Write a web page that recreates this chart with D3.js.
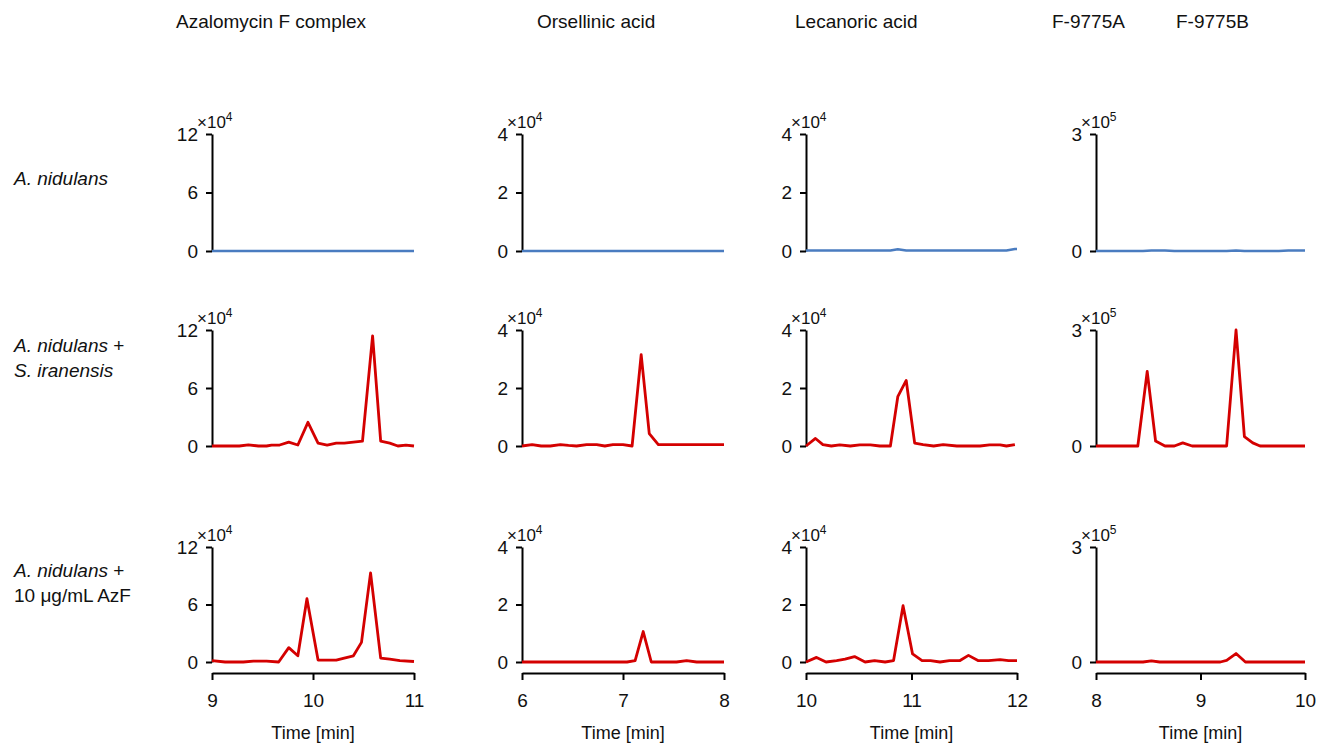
<!DOCTYPE html>
<html lang="en">
<head>
<meta charset="UTF-8">
<title>LC-MS traces</title>
<script src="https://d3js.org/d3.v7.min.js"></script>
<style>
  body { margin: 0; background: #fff; }
  svg text { font-family: "Liberation Sans", Arial, sans-serif; fill: #111; }
  .tick text { font-size: 19px; }
  .tick line, .domain { stroke: #000; stroke-width: 2px; }
</style>
</head>
<body>
<svg width="1317" height="744"></svg>
<script>
// column headers and row labels
const colTitles = [
  { text: "Azalomycin F complex", x: 176 },
  { text: "Orsellinic acid", x: 537 },
  { text: "Lecanoric acid", x: 795 },
  { text: "F-9775A", x: 1052 },
  { text: "F-9775B", x: 1176 }
];
const rowLabels = [
  [{ t: "A. nidulans", it: true, y: 185 }],
  [{ t: "A. nidulans", it: true, tail: " +", y: 352 }, { t: "S. iranensis", it: true, y: 377 }],
  [{ t: "A. nidulans", it: true, tail: " +", y: 577 }, { t: "10 μg/mL AzF", it: false, y: 602 }]
];

// axes per column
const xDomains = [[9, 11], [6, 8], [10, 12], [8, 10]];
const xTicks = [[9, 10, 11], [6, 7, 8], [10, 11, 12], [8, 9, 10]];
const yMax = [12, 4, 4, 3];
const yTicks = [[0, 6, 12], [0, 2, 4], [0, 2, 4], [0, 3]];
const yExp = ["4", "4", "4", "5"];

// traces: [time (min), intensity in units of the column's 10^n]
const azfNid = [[9, 0], [11, 0]];
const azfCo = [[9.0, 0], [9.27, 0], [9.36, 0.12], [9.46, 0], [9.54, 0], [9.59, 0.1], [9.67, 0.1], [9.76, 0.4], [9.85, 0.1], [9.95, 2.45], [10.05, 0.3], [10.14, 0.1], [10.23, 0.3], [10.31, 0.3], [10.40, 0.4], [10.49, 0.5], [10.59, 11.4], [10.67, 0.5], [10.76, 0.3], [10.84, 0], [10.92, 0.1], [11.0, 0]];
const azfAdd = [[9.0, 0.15], [9.13, 0], [9.31, 0], [9.41, 0.1], [9.54, 0.1], [9.66, 0], [9.76, 1.5], [9.85, 0.65], [9.94, 6.6], [10.05, 0.2], [10.23, 0.2], [10.40, 0.65], [10.48, 2.05], [10.57, 9.3], [10.67, 0.4], [10.76, 0.3], [10.86, 0.15], [11.0, 0.05]];

const orsNid = [[6, 0], [8, 0]];
const orsCo = [[6.0, 0], [6.10, 0.05], [6.19, 0], [6.28, 0], [6.38, 0.05], [6.46, 0.02], [6.54, 0], [6.64, 0.05], [6.74, 0.05], [6.82, 0], [6.90, 0.05], [7.0, 0.05], [7.09, 0], [7.18, 3.15], [7.26, 0.43], [7.35, 0.05], [8.0, 0.05]];
const orsAdd = [[6.0, 0], [7.04, 0], [7.12, 0.05], [7.20, 1.06], [7.28, 0], [7.53, 0], [7.63, 0.05], [7.73, 0], [8.0, 0]];

const lecNid = [[10, 0.02], [10.8, 0.02], [10.87, 0.06], [10.95, 0.02], [11.9, 0.02], [11.98, 0.07], [12, 0.07]];
const lecCo = [[10.0, 0], [10.09, 0.26], [10.16, 0.05], [10.24, 0], [10.32, 0.04], [10.42, 0], [10.51, 0.04], [10.61, 0.04], [10.70, 0], [10.80, 0], [10.87, 1.7], [10.95, 2.26], [11.03, 0.1], [11.11, 0.05], [11.21, 0], [11.30, 0.05], [11.43, 0], [11.65, 0], [11.74, 0.04], [11.84, 0.04], [11.90, 0], [11.98, 0.05]];
const lecAdd = [[10.0, 0], [10.10, 0.16], [10.19, 0], [10.29, 0.05], [10.37, 0.1], [10.46, 0.19], [10.56, 0], [10.65, 0.05], [10.75, 0], [10.83, 0.05], [10.92, 1.96], [11.01, 0.28], [11.10, 0.05], [11.18, 0.05], [11.27, 0], [11.36, 0.05], [11.46, 0.05], [11.54, 0.23], [11.63, 0.05], [11.73, 0.05], [11.84, 0.08], [11.92, 0.05], [12.0, 0.05]];

const fNid = [[8, 0], [8.45, 0], [8.53, 0.015], [8.66, 0.015], [8.75, 0], [9.25, 0], [9.34, 0.015], [9.42, 0], [9.75, 0], [9.84, 0.015], [10, 0.015]];
const fCo = [[8.0, 0], [8.40, 0], [8.49, 1.93], [8.57, 0.13], [8.66, 0], [8.75, 0], [8.83, 0.08], [8.92, 0], [9.25, 0], [9.34, 3.0], [9.42, 0.24], [9.50, 0.08], [9.57, 0], [10.0, 0]];
const fAdd = [[8.0, 0], [8.45, 0], [8.53, 0.03], [8.61, 0], [9.19, 0], [9.25, 0.04], [9.34, 0.22], [9.43, 0], [10.0, 0]];

const traces = [
  [azfNid, orsNid, lecNid, fNid],
  [azfCo, orsCo, lecCo, fCo],
  [azfAdd, orsAdd, lecAdd, fAdd]
];
const rowColors = ["#4a7cc0", "#d40000", "#d40000"];

// layout
const colX = [[212, 414], [522, 724], [806, 1017], [1096, 1305]];
const rowY = [[134, 251], [330, 446], [547, 662]];
const xAxisY = 673;

const svg = d3.select("svg");

svg.selectAll("text.title")
  .data(colTitles)
  .enter().append("text")
  .attr("class", "title")
  .attr("x", d => d.x)
  .attr("y", 28)
  .style("font-size", "19px")
  .text(d => d.text);

rowLabels.forEach(function (lines) {
  lines.forEach(function (ln) {
    const t = svg.append("text")
      .attr("x", 14)
      .attr("y", ln.y)
      .style("font-size", "19px");
    t.append("tspan").style("font-style", ln.it ? "italic" : "normal").text(ln.t);
    if (ln.tail) t.append("tspan").text(ln.tail);
  });
});

const line = d3.line();

traces.forEach(function (row, r) {
  row.forEach(function (data, c) {
    const x = d3.scaleLinear().domain(xDomains[c]).range(colX[c]);
    const y = d3.scaleLinear().domain([0, yMax[c]]).range([rowY[r][1], rowY[r][0]]);
    const g = svg.append("g");

    g.append("g")
      .attr("transform", `translate(${colX[c][0]},0)`)
      .call(d3.axisLeft(y).tickValues(yTicks[c]).tickFormat(d3.format("d"))
        .tickSize(6).tickSizeOuter(0).tickPadding(8));

    const lab = g.append("text")
      .attr("x", colX[c][0] - 15)
      .attr("y", rowY[r][0] - 6)
      .style("font-size", "17px");
    lab.append("tspan").text("×10");
    lab.append("tspan").attr("dy", -7).style("font-size", "12px").text(yExp[c]);

    if (r === 2) {
      g.append("g")
        .attr("transform", `translate(0,${xAxisY})`)
        .call(d3.axisBottom(x).tickValues(xTicks[c]).tickFormat(d3.format("d"))
          .tickSize(7).tickSizeOuter(0).tickPadding(14));
      g.append("text")
        .attr("x", (colX[c][0] + colX[c][1]) / 2)
        .attr("y", 739)
        .attr("text-anchor", "middle")
        .style("font-size", "18px")
        .text("Time [min]");
    }

    g.append("path")
      .datum(data)
      .attr("fill", "none")
      .attr("stroke", rowColors[r])
      .attr("stroke-width", r === 0 ? 2.5 : 2.8)
      .attr("stroke-linejoin", "round")
      .attr("d", line.x(d => x(d[0])).y(d => y(d[1])));
  });
});
</script>
</body>
</html>
